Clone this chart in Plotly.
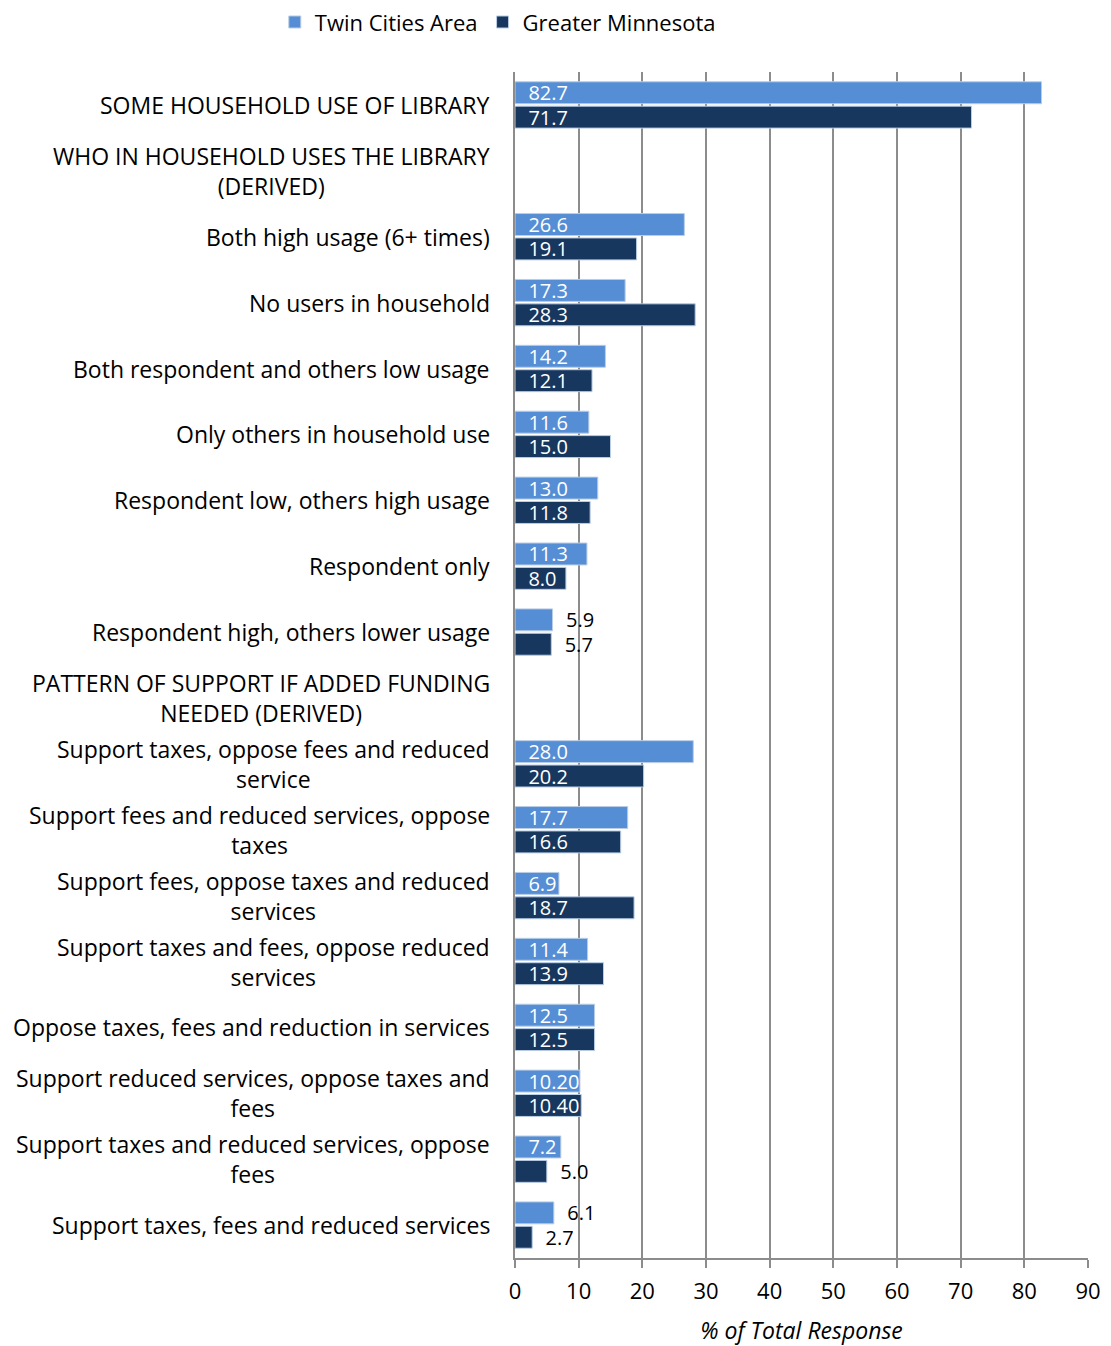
import plotly.graph_objects as go

categories = [
    "SOME HOUSEHOLD USE OF LIBRARY",
    "WHO IN HOUSEHOLD USES THE LIBRARY<br>(DERIVED)",
    "Both high usage (6+ times)",
    "No users in household",
    "Both respondent and others low usage",
    "Only others in household use",
    "Respondent low, others high usage",
    "Respondent only",
    "Respondent high, others lower usage",
    "PATTERN OF SUPPORT IF ADDED FUNDING<br>NEEDED (DERIVED)",
    "Support taxes, oppose fees and reduced<br>service",
    "Support fees and reduced services, oppose<br>taxes",
    "Support fees, oppose taxes and reduced<br>services",
    "Support taxes and fees, oppose reduced<br>services",
    "Oppose taxes, fees and reduction in services",
    "Support reduced services, oppose taxes and<br>fees",
    "Support taxes and reduced services, oppose<br>fees",
    "Support taxes, fees and reduced services",
]
twin_cities = [82.7, None, 26.6, 17.3, 14.2, 11.6, 13.0, 11.3, 5.9, None,
               28.0, 17.7, 6.9, 11.4, 12.5, 10.2, 7.2, 6.1]
greater_mn = [71.7, None, 19.1, 28.3, 12.1, 15.0, 11.8, 8.0, 5.7, None,
              20.2, 16.6, 18.7, 13.9, 12.5, 10.4, 5.0, 2.7]
twin_labels = ["82.7", "", "26.6", "17.3", "14.2", "11.6", "13.0", "11.3", "5.9", "",
               "28.0", "17.7", "6.9", "11.4", "12.5", "10.20", "7.2", "6.1"]
greater_labels = ["71.7", "", "19.1", "28.3", "12.1", "15.0", "11.8", "8.0", "5.7", "",
                  "20.2", "16.6", "18.7", "13.9", "12.5", "10.40", "5.0", "2.7"]
x_ticks = [0, 10, 20, 30, 40, 50, 60, 70, 80, 90]

FONT = "Open Sans"
LIGHT = "#558ED5"
DARK = "#17375E"
GRID = "#8C8C8C"

def positions(vals):
    return ["inside" if (v is not None and v >= 6.5) else "outside" for v in vals]

def colors(vals):
    return ["white" if (v is not None and v >= 6.5) else "black" for v in vals]

def pad(labels):
    return [("\u00a0\u00a0" + s) if s else "" for s in labels]

fig = go.Figure()
fig.add_trace(go.Bar(
    name="Twin Cities Area", y=categories, x=twin_cities, orientation="h",
    marker=dict(color=LIGHT, line=dict(color="#B9CDE5", width=1)),
    text=pad(twin_labels), textposition=positions(twin_cities),
    insidetextanchor="start", textangle=0, constraintext="none",
    textfont=dict(family=FONT, size=20, color=colors(twin_cities)),
    cliponaxis=False,
))
fig.add_trace(go.Bar(
    name="Greater Minnesota", y=categories, x=greater_mn, orientation="h",
    marker=dict(color=DARK, line=dict(color="#B9CDE5", width=1)),
    text=pad(greater_labels), textposition=positions(greater_mn),
    insidetextanchor="start", textangle=0, constraintext="none",
    textfont=dict(family=FONT, size=20, color=colors(greater_mn)),
    cliponaxis=False,
))

for c in categories:
    fig.add_annotation(
        x=-0.041, xref="paper", y=c, yref="y", text=c, showarrow=False,
        xanchor="right", yanchor="middle", align="center",
        font=dict(family=FONT, size=23, color="black"),
    )

fig.update_layout(
    width=1103, height=1338,
    margin=dict(l=507, r=23, t=64, b=88, autoexpand=False),
    paper_bgcolor="white", plot_bgcolor="white",
    barmode="group", bargap=0.26, bargroupgap=0.1,
    uniformtext=dict(minsize=20, mode="show"),
    font=dict(family=FONT, size=22, color="black"),
    showlegend=True,
    legend=dict(orientation="h", x=-0.03, xanchor="center", y=1.042, yanchor="middle",
                font=dict(family=FONT, size=22), traceorder="normal",
                bgcolor="rgba(0,0,0,0)"),
)
fig.update_xaxes(
    range=[0, 90], tickvals=x_ticks, showgrid=True, gridcolor=GRID, gridwidth=1.5,
    showline=True, linecolor=GRID, linewidth=1.5, ticks="outside", ticklen=8,
    tickcolor=GRID, tickwidth=1.5, zeroline=False, automargin=False,
    tickfont=dict(family=FONT, size=22), ticklabelstandoff=5,
    title=dict(text="<i>% of Total Response</i>", font=dict(family=FONT, size=23), standoff=20),
)
fig.update_yaxes(
    categoryorder="array", categoryarray=categories, autorange="reversed",
    showticklabels=False, showgrid=False, showline=True, linecolor=GRID, linewidth=1.5,
    ticks="", automargin=False,
)

fig.write_html("out.html")
